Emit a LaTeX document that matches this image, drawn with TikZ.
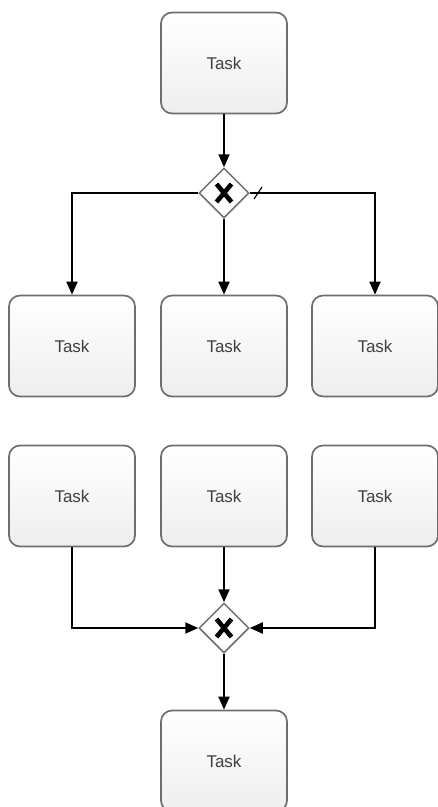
\documentclass[tikz,border=0pt]{standalone}
\usepackage{fontspec}
\setmainfont{Liberation Sans}
\usetikzlibrary{arrows.meta,shapes.geometric}
\definecolor{boxborder}{HTML}{6E6E6E}
\definecolor{boxfill}{HTML}{EEEEEE}
\definecolor{txt}{HTML}{404040}
\begin{document}
\begin{tikzpicture}[x=1pt,y=-1pt,
  task/.style={draw=boxborder, line width=1.7pt, rounded corners=11pt, top color=white, bottom color=boxfill,
    minimum width=126pt, minimum height=101pt, inner sep=0pt, font=\fontsize{17}{19}\selectfont, text=txt},
  gate/.style={diamond, draw=boxborder, line width=1.5pt, fill=white, minimum width=50pt, minimum height=50pt, inner sep=0pt},
  xmark/.style={line width=4.6pt, black},
  flow/.style={line width=1.9pt, -{Triangle[length=13pt,width=11pt]}}]
\useasboundingbox (0,0) rectangle (438,807);
\node[task] (t0) at (224,63) {Task};
\node[gate] (g1) at (224,193) {};
\node[task] (a1) at (72,346) {Task};
\node[task] (a2) at (224,346) {Task};
\node[task] (a3) at (375,346) {Task};
\node[task] (b1) at (72,496) {Task};
\node[task] (b2) at (224,496) {Task};
\node[task] (b3) at (375,496) {Task};
\node[gate] (g2) at (224,628) {};
\node[task] (t9) at (224,761) {Task};
\foreach \g in {g1,g2}{
  \draw[xmark] ([shift={(-7.5,-9)}]\g.center) -- ([shift={(7.5,9)}]\g.center);
  \draw[xmark] ([shift={(7.5,-9)}]\g.center) -- ([shift={(-7.5,9)}]\g.center);
}
\coordinate (m) at (258,193);
\draw[flow] (t0) -- (g1);
\draw[flow] (g1.west) -| (a1.north);
\draw[flow] (g1) -- (a2);
\draw[flow] (g1.east) -| (a3.north);
\draw[line width=1.2pt] ([shift={(-4,6)}]m) -- ([shift={(4,-6)}]m);
\draw[flow] (b1.south) |- (g2.west);
\draw[flow] (b2) -- (g2);
\draw[flow] (b3.south) |- (g2.east);
\draw[flow] (g2) -- (t9);
\end{tikzpicture}
\end{document}
